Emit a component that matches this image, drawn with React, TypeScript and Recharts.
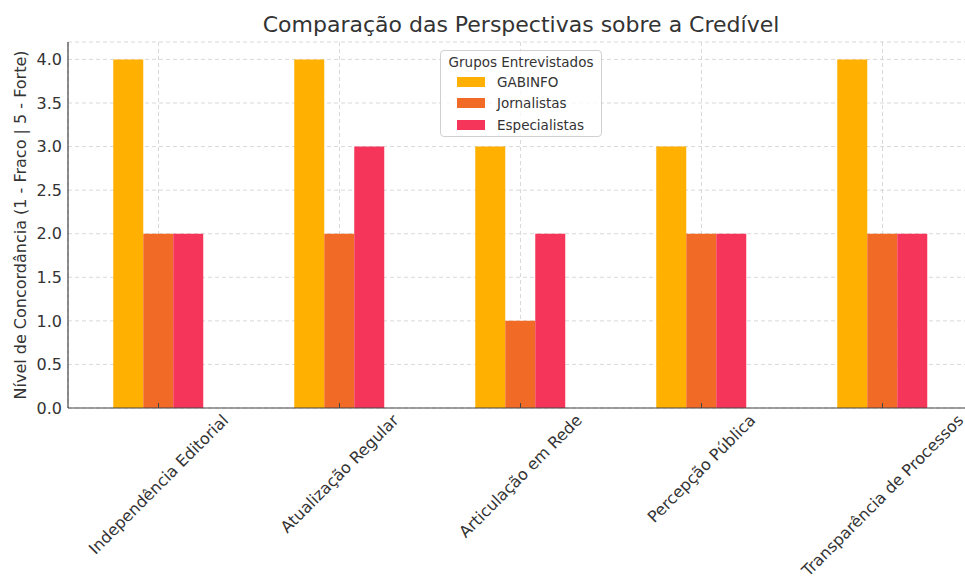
import React from 'react';
import { BarChart, Bar, XAxis, YAxis, CartesianGrid, Legend } from 'recharts';

const categories = [
    'Independência Editorial',
    'Atualização Regular',
    'Articulação em Rede',
    'Percepção Pública',
    'Transparência de Processos',
];
const gabinfo = [4, 4, 3, 3, 4];
const jornalistas = [2, 2, 1, 2, 2];
const especialistas = [2, 3, 2, 2, 2];
const yTicks = [0, 0.5, 1, 1.5, 2, 2.5, 3, 3.5, 4];

const series = [
    { key: 'GABINFO', color: '#FFB000' },
    { key: 'Jornalistas', color: '#F26B26' },
    { key: 'Especialistas', color: '#F5365A' },
];

const data = categories.map((name, i) => ({
    name,
    GABINFO: gabinfo[i],
    Jornalistas: jornalistas[i],
    Especialistas: especialistas[i],
}));

const FONT = '"DejaVu Sans", sans-serif';
const TEXT = '#333333';

let ctx: CanvasRenderingContext2D | null = null;
const measure = (s: string, size: number) => {
    if (!ctx) ctx = document.createElement('canvas').getContext('2d');
    if (!ctx) return s.length * size * 0.58;
    ctx.font = `${size}px "DejaVu Sans"`;
    return ctx.measureText(s).width;
};

const XTick = ({ x, y, payload }: any) => {
    const size = 16;
    const w = measure(payload.value, size);
    const half = ((w + size * 1.15) * Math.SQRT1_2) / 2;
    const cy = y + 3 + half;
    return (
        <g>
            <line x1={x} x2={x} y1={y - 5} y2={y} stroke="#444" strokeWidth={1} />
            <text
                x={x}
                y={cy}
                textAnchor="middle"
                dominantBaseline="central"
                fontSize={size}
                fontFamily={FONT}
                fill={TEXT}
                transform={`rotate(-45, ${x}, ${cy})`}
            >
                {payload.value}
            </text>
        </g>
    );
};

const YLabel = ({ viewBox }: any) => {
    const cx = 20;
    const cy = viewBox.y + viewBox.height / 2;
    return (
        <text
            x={cx}
            y={cy}
            textAnchor="middle"
            dominantBaseline="central"
            fontSize={16}
            fontFamily={FONT}
            fill={TEXT}
            transform={`rotate(-90, ${cx}, ${cy})`}
        >
            Nível de Concordância (1 - Fraco | 5 - Forte)
        </text>
    );
};

const LegendBox = () => (
    <div
        style={{
            width: 162,
            height: 87,
            border: '1px solid #d0d0d0',
            borderRadius: 4,
            background: 'rgba(255,255,255,0.8)',
            fontFamily: FONT,
            color: TEXT,
            boxSizing: 'border-box',
        }}
    >
        <div style={{ fontSize: 13.5, textAlign: 'center', marginTop: 2, lineHeight: '18px' }}>
            Grupos Entrevistados
        </div>
        {series.map((s) => (
            <div key={s.key} style={{ display: 'flex', alignItems: 'center', height: 21.5, marginLeft: 16 }}>
                <span style={{ width: 28, height: 10, background: s.color, display: 'inline-block' }} />
                <span style={{ fontSize: 13.5, marginLeft: 12 }}>{s.key}</span>
            </div>
        ))}
    </div>
);

export default function App() {
    return (
        <div
            style={{
                position: 'absolute',
                left: 0,
                top: 0,
                width: 965,
                height: 582,
                overflow: 'hidden',
                background: '#fff',
            }}
        >
            <div
                style={{
                    position: 'absolute',
                    left: 0,
                    width: 1042,
                    top: 11,
                    textAlign: 'center',
                    fontFamily: FONT,
                    fontSize: 22,
                    color: TEXT,
                    lineHeight: '28px',
                }}
            >
                Comparação das Perspectivas sobre a Credível
            </div>
            <BarChart
                width={975}
                height={582}
                data={data}
                margin={{ top: 42, right: 2, left: 8, bottom: 0 }}
                barCategoryGap="25%"
                barGap={0}
            >
                <XAxis
                    dataKey="name"
                    height={174}
                    interval={0}
                    tickLine={false}
                    tickSize={0}
                    tickMargin={0}
                    tick={<XTick />}
                    axisLine={{ stroke: '#444', strokeWidth: 1.2 }}
                />
                <YAxis
                    width={60}
                    domain={[0, 4.2]}
                    ticks={yTicks}
                    tickFormatter={(v) => v.toFixed(1)}
                    tickLine={false}
                    tickSize={0}
                    tickMargin={6}
                    tick={{ fontSize: 16, fontFamily: FONT, fill: TEXT }}
                    axisLine={{ stroke: '#444', strokeWidth: 1.2 }}
                    label={<YLabel />}
                />
                {series.map((s) => (
                    <Bar key={s.key} dataKey={s.key} fill={s.color} isAnimationActive={false} />
                ))}
                <CartesianGrid strokeDasharray="4 3" stroke="#cfcfcf" strokeOpacity={0.8} />
                <Legend
                    layout="vertical"
                    align="center"
                    verticalAlign="middle"
                    content={<LegendBox />}
                    wrapperStyle={{ top: 50, left: 440, width: 162 }}
                />
            </BarChart>
        </div>
    );
}
